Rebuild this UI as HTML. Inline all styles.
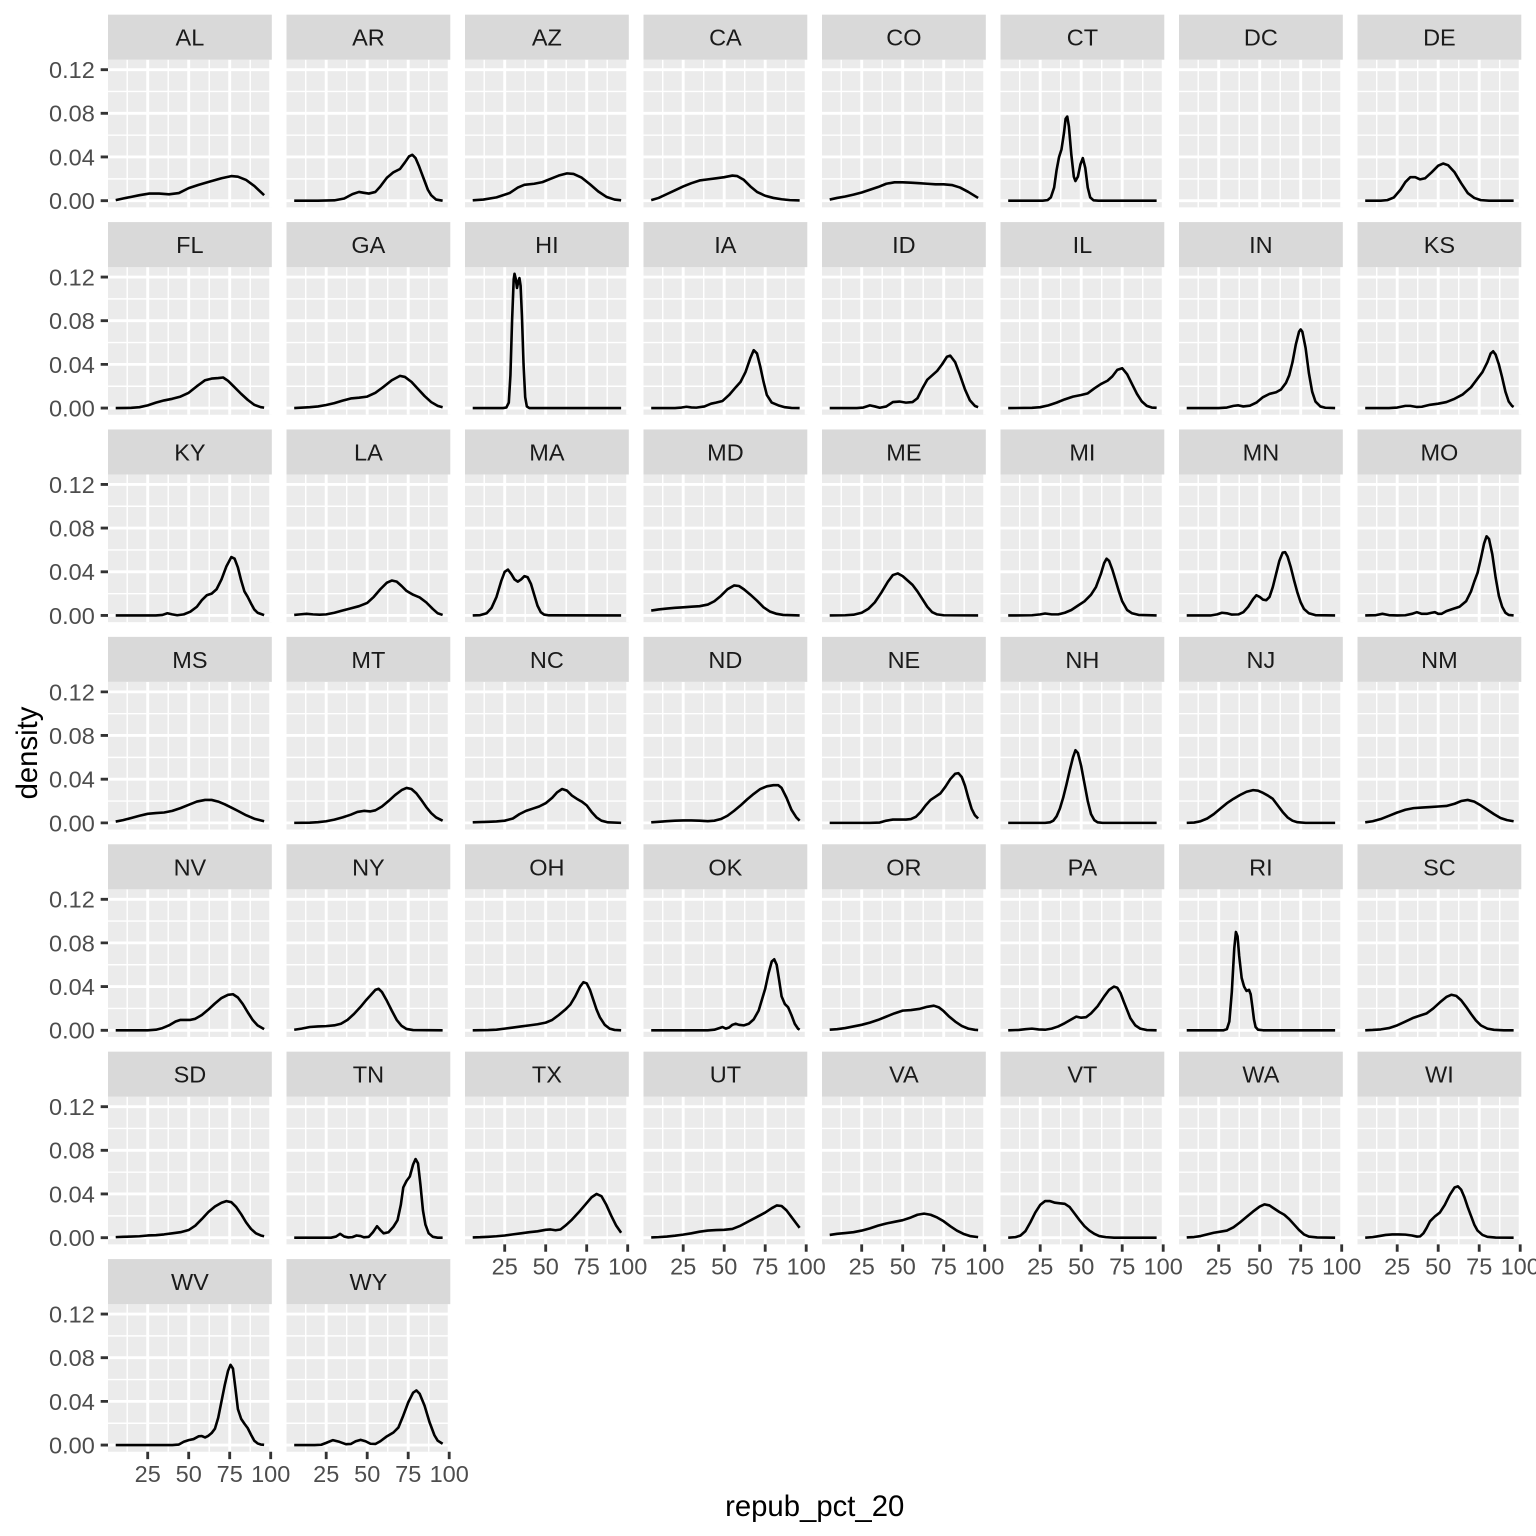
<!DOCTYPE html>
<html>
<head>
<meta charset="utf-8">
<style>
html,body{margin:0;padding:0;background:#fff;}
svg{display:block;}
text{font-family:"Liberation Sans",Arial,Helvetica,sans-serif;}
.st{font-size:23.5px;fill:#1a1a1a;text-anchor:middle;}
.yl{font-size:23.5px;fill:#4d4d4d;text-anchor:end;}
.xl{font-size:23.5px;fill:#4d4d4d;text-anchor:middle;}
.tk{stroke:#333;stroke-width:2.84;fill:none;}
.c{fill:none;stroke:#000;stroke-width:2.6;stroke-linejoin:round;stroke-linecap:butt;vector-effect:non-scaling-stroke;}
.sb{fill:#d9d9d9;}
</style>
</head>
<body>
<svg width="1536" height="1536" viewBox="0 0 1536 1536" xmlns="http://www.w3.org/2000/svg">
<defs>
<g id="pg">
<rect width="163.8" height="147.7" fill="#ebebeb"/>
<path d="M0 119.2H163.8M0 75.5H163.8M0 31.8H163.8M19.2 0V147.7M60.2 0V147.7M101.2 0V147.7M142.2 0V147.7" stroke="#fff" stroke-width="1.42"/>
<path d="M0 141H163.8M0 97.3H163.8M0 53.6H163.8M0 10H163.8M39.7 0V147.7M80.7 0V147.7M121.7 0V147.7M162.7 0V147.7" stroke="#fff" stroke-width="2.84"/>
</g>
</defs>
<rect width="1536" height="1536" fill="#fff"/>

<!-- Panels -->
<use href="#pg" x="108" y="59.67"/><use href="#pg" x="286.5" y="59.67"/><use href="#pg" x="465" y="59.67"/><use href="#pg" x="643.5" y="59.67"/><use href="#pg" x="822" y="59.67"/><use href="#pg" x="1000.5" y="59.67"/><use href="#pg" x="1179" y="59.67"/><use href="#pg" x="1357.5" y="59.67"/>
<use href="#pg" x="108" y="267.07"/><use href="#pg" x="286.5" y="267.07"/><use href="#pg" x="465" y="267.07"/><use href="#pg" x="643.5" y="267.07"/><use href="#pg" x="822" y="267.07"/><use href="#pg" x="1000.5" y="267.07"/><use href="#pg" x="1179" y="267.07"/><use href="#pg" x="1357.5" y="267.07"/>
<use href="#pg" x="108" y="474.47"/><use href="#pg" x="286.5" y="474.47"/><use href="#pg" x="465" y="474.47"/><use href="#pg" x="643.5" y="474.47"/><use href="#pg" x="822" y="474.47"/><use href="#pg" x="1000.5" y="474.47"/><use href="#pg" x="1179" y="474.47"/><use href="#pg" x="1357.5" y="474.47"/>
<use href="#pg" x="108" y="681.87"/><use href="#pg" x="286.5" y="681.87"/><use href="#pg" x="465" y="681.87"/><use href="#pg" x="643.5" y="681.87"/><use href="#pg" x="822" y="681.87"/><use href="#pg" x="1000.5" y="681.87"/><use href="#pg" x="1179" y="681.87"/><use href="#pg" x="1357.5" y="681.87"/>
<use href="#pg" x="108" y="889.27"/><use href="#pg" x="286.5" y="889.27"/><use href="#pg" x="465" y="889.27"/><use href="#pg" x="643.5" y="889.27"/><use href="#pg" x="822" y="889.27"/><use href="#pg" x="1000.5" y="889.27"/><use href="#pg" x="1179" y="889.27"/><use href="#pg" x="1357.5" y="889.27"/>
<use href="#pg" x="108" y="1096.67"/><use href="#pg" x="286.5" y="1096.67"/><use href="#pg" x="465" y="1096.67"/><use href="#pg" x="643.5" y="1096.67"/><use href="#pg" x="822" y="1096.67"/><use href="#pg" x="1000.5" y="1096.67"/><use href="#pg" x="1179" y="1096.67"/><use href="#pg" x="1357.5" y="1096.67"/>
<use href="#pg" x="108" y="1304.07"/><use href="#pg" x="286.5" y="1304.07"/>

<!-- Strips -->
<g class="sb">
<rect x="108" y="14.67" width="163.8" height="45"/><rect x="286.5" y="14.67" width="163.8" height="45"/><rect x="465" y="14.67" width="163.8" height="45"/><rect x="643.5" y="14.67" width="163.8" height="45"/><rect x="822" y="14.67" width="163.8" height="45"/><rect x="1000.5" y="14.67" width="163.8" height="45"/><rect x="1179" y="14.67" width="163.8" height="45"/><rect x="1357.5" y="14.67" width="163.8" height="45"/>
<rect x="108" y="222.07" width="163.8" height="45"/><rect x="286.5" y="222.07" width="163.8" height="45"/><rect x="465" y="222.07" width="163.8" height="45"/><rect x="643.5" y="222.07" width="163.8" height="45"/><rect x="822" y="222.07" width="163.8" height="45"/><rect x="1000.5" y="222.07" width="163.8" height="45"/><rect x="1179" y="222.07" width="163.8" height="45"/><rect x="1357.5" y="222.07" width="163.8" height="45"/>
<rect x="108" y="429.47" width="163.8" height="45"/><rect x="286.5" y="429.47" width="163.8" height="45"/><rect x="465" y="429.47" width="163.8" height="45"/><rect x="643.5" y="429.47" width="163.8" height="45"/><rect x="822" y="429.47" width="163.8" height="45"/><rect x="1000.5" y="429.47" width="163.8" height="45"/><rect x="1179" y="429.47" width="163.8" height="45"/><rect x="1357.5" y="429.47" width="163.8" height="45"/>
<rect x="108" y="636.87" width="163.8" height="45"/><rect x="286.5" y="636.87" width="163.8" height="45"/><rect x="465" y="636.87" width="163.8" height="45"/><rect x="643.5" y="636.87" width="163.8" height="45"/><rect x="822" y="636.87" width="163.8" height="45"/><rect x="1000.5" y="636.87" width="163.8" height="45"/><rect x="1179" y="636.87" width="163.8" height="45"/><rect x="1357.5" y="636.87" width="163.8" height="45"/>
<rect x="108" y="844.27" width="163.8" height="45"/><rect x="286.5" y="844.27" width="163.8" height="45"/><rect x="465" y="844.27" width="163.8" height="45"/><rect x="643.5" y="844.27" width="163.8" height="45"/><rect x="822" y="844.27" width="163.8" height="45"/><rect x="1000.5" y="844.27" width="163.8" height="45"/><rect x="1179" y="844.27" width="163.8" height="45"/><rect x="1357.5" y="844.27" width="163.8" height="45"/>
<rect x="108" y="1051.67" width="163.8" height="45"/><rect x="286.5" y="1051.67" width="163.8" height="45"/><rect x="465" y="1051.67" width="163.8" height="45"/><rect x="643.5" y="1051.67" width="163.8" height="45"/><rect x="822" y="1051.67" width="163.8" height="45"/><rect x="1000.5" y="1051.67" width="163.8" height="45"/><rect x="1179" y="1051.67" width="163.8" height="45"/><rect x="1357.5" y="1051.67" width="163.8" height="45"/>
<rect x="108" y="1259.07" width="163.8" height="45"/><rect x="286.5" y="1259.07" width="163.8" height="45"/>
</g>

<!-- Strip labels -->
<g class="st">
<text x="189.9" y="45.67">AL</text><text x="368.4" y="45.67">AR</text><text x="546.9" y="45.67">AZ</text><text x="725.4" y="45.67">CA</text><text x="903.9" y="45.67">CO</text><text x="1082.4" y="45.67">CT</text><text x="1260.9" y="45.67">DC</text><text x="1439.4" y="45.67">DE</text>
<text x="189.9" y="253.07">FL</text><text x="368.4" y="253.07">GA</text><text x="546.9" y="253.07">HI</text><text x="725.4" y="253.07">IA</text><text x="903.9" y="253.07">ID</text><text x="1082.4" y="253.07">IL</text><text x="1260.9" y="253.07">IN</text><text x="1439.4" y="253.07">KS</text>
<text x="189.9" y="460.47">KY</text><text x="368.4" y="460.47">LA</text><text x="546.9" y="460.47">MA</text><text x="725.4" y="460.47">MD</text><text x="903.9" y="460.47">ME</text><text x="1082.4" y="460.47">MI</text><text x="1260.9" y="460.47">MN</text><text x="1439.4" y="460.47">MO</text>
<text x="189.9" y="667.87">MS</text><text x="368.4" y="667.87">MT</text><text x="546.9" y="667.87">NC</text><text x="725.4" y="667.87">ND</text><text x="903.9" y="667.87">NE</text><text x="1082.4" y="667.87">NH</text><text x="1260.9" y="667.87">NJ</text><text x="1439.4" y="667.87">NM</text>
<text x="189.9" y="875.27">NV</text><text x="368.4" y="875.27">NY</text><text x="546.9" y="875.27">OH</text><text x="725.4" y="875.27">OK</text><text x="903.9" y="875.27">OR</text><text x="1082.4" y="875.27">PA</text><text x="1260.9" y="875.27">RI</text><text x="1439.4" y="875.27">SC</text>
<text x="189.9" y="1082.67">SD</text><text x="368.4" y="1082.67">TN</text><text x="546.9" y="1082.67">TX</text><text x="725.4" y="1082.67">UT</text><text x="903.9" y="1082.67">VA</text><text x="1082.4" y="1082.67">VT</text><text x="1260.9" y="1082.67">WA</text><text x="1439.4" y="1082.67">WI</text>
<text x="189.9" y="1290.07">WV</text><text x="368.4" y="1290.07">WY</text>
</g>

<!-- Y ticks -->
<path class="tk" d="M100.67 69.67H108M100.67 113.27H108M100.67 156.97H108M100.67 200.67H108
M100.67 277.07H108M100.67 320.67H108M100.67 364.37H108M100.67 408.07H108
M100.67 484.47H108M100.67 528.07H108M100.67 571.77H108M100.67 615.47H108
M100.67 691.87H108M100.67 735.47H108M100.67 779.17H108M100.67 822.87H108
M100.67 899.27H108M100.67 942.87H108M100.67 986.57H108M100.67 1030.27H108
M100.67 1106.67H108M100.67 1150.27H108M100.67 1193.97H108M100.67 1237.67H108
M100.67 1314.07H108M100.67 1357.67H108M100.67 1401.37H108M100.67 1445.07H108"/>

<!-- Y labels -->
<g class="yl">
<text x="94.8" y="78.07">0.12</text><text x="94.8" y="121.67">0.08</text><text x="94.8" y="165.37">0.04</text><text x="94.8" y="209.07">0.00</text>
<text x="94.8" y="285.47">0.12</text><text x="94.8" y="329.07">0.08</text><text x="94.8" y="372.77">0.04</text><text x="94.8" y="416.47">0.00</text>
<text x="94.8" y="492.87">0.12</text><text x="94.8" y="536.47">0.08</text><text x="94.8" y="580.17">0.04</text><text x="94.8" y="623.87">0.00</text>
<text x="94.8" y="700.27">0.12</text><text x="94.8" y="743.87">0.08</text><text x="94.8" y="787.57">0.04</text><text x="94.8" y="831.27">0.00</text>
<text x="94.8" y="907.67">0.12</text><text x="94.8" y="951.27">0.08</text><text x="94.8" y="994.97">0.04</text><text x="94.8" y="1038.67">0.00</text>
<text x="94.8" y="1115.07">0.12</text><text x="94.8" y="1158.67">0.08</text><text x="94.8" y="1202.37">0.04</text><text x="94.8" y="1246.07">0.00</text>
<text x="94.8" y="1322.47">0.12</text><text x="94.8" y="1366.07">0.08</text><text x="94.8" y="1409.77">0.04</text><text x="94.8" y="1453.47">0.00</text>
</g>

<!-- X ticks -->
<path class="tk" d="M147.7 1451.77V1459.1M188.7 1451.77V1459.1M229.7 1451.77V1459.1M270.7 1451.77V1459.1
M326.2 1451.77V1459.1M367.2 1451.77V1459.1M408.2 1451.77V1459.1M449.2 1451.77V1459.1
M504.7 1244.37V1251.7M545.7 1244.37V1251.7M586.7 1244.37V1251.7M627.7 1244.37V1251.7
M683.2 1244.37V1251.7M724.2 1244.37V1251.7M765.2 1244.37V1251.7M806.2 1244.37V1251.7
M861.7 1244.37V1251.7M902.7 1244.37V1251.7M943.7 1244.37V1251.7M984.7 1244.37V1251.7
M1040.2 1244.37V1251.7M1081.2 1244.37V1251.7M1122.2 1244.37V1251.7M1163.2 1244.37V1251.7
M1218.7 1244.37V1251.7M1259.7 1244.37V1251.7M1300.7 1244.37V1251.7M1341.7 1244.37V1251.7
M1397.2 1244.37V1251.7M1438.2 1244.37V1251.7M1479.2 1244.37V1251.7M1520.2 1244.37V1251.7"/>

<!-- X labels -->
<g class="xl">
<text x="147.7" y="1481.77">25</text><text x="188.7" y="1481.77">50</text><text x="229.7" y="1481.77">75</text><text x="270.7" y="1481.77">100</text>
<text x="326.2" y="1481.77">25</text><text x="367.2" y="1481.77">50</text><text x="408.2" y="1481.77">75</text><text x="449.2" y="1481.77">100</text>
<text x="504.7" y="1274.37">25</text><text x="545.7" y="1274.37">50</text><text x="586.7" y="1274.37">75</text><text x="627.7" y="1274.37">100</text>
<text x="683.2" y="1274.37">25</text><text x="724.2" y="1274.37">50</text><text x="765.2" y="1274.37">75</text><text x="806.2" y="1274.37">100</text>
<text x="861.7" y="1274.37">25</text><text x="902.7" y="1274.37">50</text><text x="943.7" y="1274.37">75</text><text x="984.7" y="1274.37">100</text>
<text x="1040.2" y="1274.37">25</text><text x="1081.2" y="1274.37">50</text><text x="1122.2" y="1274.37">75</text><text x="1163.2" y="1274.37">100</text>
<text x="1218.7" y="1274.37">25</text><text x="1259.7" y="1274.37">50</text><text x="1300.7" y="1274.37">75</text><text x="1341.7" y="1274.37">100</text>
<text x="1397.2" y="1274.37">25</text><text x="1438.2" y="1274.37">50</text><text x="1479.2" y="1274.37">75</text><text x="1520.2" y="1274.37">100</text>
</g>

<!-- Axis titles -->
<text x="814.7" y="1516" font-size="29.3" text-anchor="middle" fill="#000">repub_pct_20</text>
<text transform="translate(37,753) rotate(-90)" font-size="29.3" text-anchor="middle" fill="#000">density</text>

<!-- Curves: data coords x=pct, y=density*1000 -->
<!-- Row 0 -->
<polyline class="c" transform="translate(106.688,200.67) scale(1.64,-1.092)" points="5.5,0.5 10,2 15,3.5 20,5 26,6.5 32,6.5 38,5.8 44,7 50,11.5 56,14.5 63,17.5 70,20.5 76,22.5 80,22 85,19 90,13.5 96,5"/>
<polyline class="c" transform="translate(285.188,200.67) scale(1.64,-1.092)" points="5.5,0 20,0 30,0.3 36,2 41,6 45,8 48,7.2 51,6.5 55,8 58,13 62,21 66,26 70,29 73,35 75.5,40.5 77.5,42 79.5,39 81.5,32 83,26 85,18 87,10 89,5 92,1 96,0"/>
<polyline class="c" transform="translate(463.688,200.67) scale(1.64,-1.092)" points="5.5,0.3 12,1 20,3 28,7 33,12 37,14.5 43,15.5 48,17 53,20 58,23 63,25 67,24.5 72,21 77,15 82,8.5 87,3.5 92,1 96,0.3"/>
<polyline class="c" transform="translate(642.188,200.67) scale(1.64,-1.092)" points="5.5,0.5 10,2.5 15,6 20,9.5 25,13 30,16 35,18.5 40,19.5 45,20.5 50,21.5 55,23 58,22.5 62,19 66,13 70,8 75,4.5 80,2.5 85,1.3 90,0.5 96,0.2"/>
<polyline class="c" transform="translate(820.688,200.67) scale(1.64,-1.092)" points="5.5,1 10,2.5 15,3.8 20,5.5 25,7.5 30,10 35,12.5 40,15.5 45,16.8 50,16.8 55,16.5 60,16 65,15.5 70,15 75,15 80,14.3 85,12 90,8 96,2.5"/>
<polyline class="c" transform="translate(999.188,200.67) scale(1.64,-1.092)" points="5.5,0 26.5,0 29.5,0.5 31.5,3 33.5,12 35,28 36.5,40 38,47 39.5,62 40.5,75 41.5,77 42.5,68 44,42 45.5,22 46.5,18 48,22 49.5,33 51,39 52.5,30 54,12 55.5,3 57.5,0.3 60.5,0 96,0"/>
<polyline class="c" transform="translate(1356.188,200.67) scale(1.64,-1.092)" points="5.5,0 15,0 19,0.5 23,3 27,10 30,17 33,21.5 36,21.5 39,19.5 42,20.5 46,26 50,32 53,34 56,32.5 60,26 64,16 68,7 72,2.5 76,0.5 81,0 96,0"/>
<!-- Row 1 -->
<polyline class="c" transform="translate(106.688,408.07) scale(1.64,-1.092)" points="5.5,0 15,0.2 20,0.8 25,2.5 30,5 35,7 40,8.5 45,10.5 50,14 55,20 60,25.5 64,27 68,27.5 71,28 74,25 78,19 82,13 86,7.5 90,3 94,0.8 96,0.4"/>
<polyline class="c" transform="translate(285.188,408.07) scale(1.64,-1.092)" points="5.5,0 15,0.8 20,1.5 25,2.8 30,4.5 35,6.8 40,8.8 45,9.5 50,10.5 55,14 60,19.5 65,25.5 70,29.5 73,28.5 77,24 81,17.5 85,11 89,5.5 93,2 96,0.8"/>
<polyline class="c" transform="translate(463.688,408.07) scale(1.64,-1.092)" points="5.5,0 24,0 26,0.5 27.5,5 28.5,30 29.5,80 30.5,118 31,123 31.8,118 32.5,110 33.3,116 34,119 34.7,112 35.5,85 36.5,40 37.5,10 38.5,1.5 40,0 96,0"/>
<polyline class="c" transform="translate(642.188,408.07) scale(1.64,-1.092)" points="5.5,0 20,0 24,0.5 27,1.2 30,0.6 33,0.4 38,1.5 42,4 45,5 49,6.5 53,12 57,19 60,24 63,33 66,46 68,53 70,50 72,38 74,24 76,12 79,5 83,2.5 87,0.8 91,0.1 96,0"/>
<polyline class="c" transform="translate(820.688,408.07) scale(1.64,-1.092)" points="5.5,0 22,0 26,0.5 30,2.5 33,1.5 36,0.3 40,1.5 44,5.5 48,6 52,5 56,5.5 59,9 62,18 65,26 68,30 71,34 74,40 77,47 79,48 82,42 85,30 88,17 91,7 94,2 96,0.8"/>
<polyline class="c" transform="translate(999.188,408.07) scale(1.64,-1.092)" points="5.5,0 20,0.2 25,0.8 30,2.5 35,5 40,8 45,10.5 50,12 54,13.5 58,18 62,22 66,25 69,29 72,35 75,36.5 78,31 81,22 84,13 87,6 90,2 93,0.5 96,0.2"/>
<polyline class="c" transform="translate(1177.688,408.07) scale(1.64,-1.092)" points="5.5,0 25,0 30,0.5 34,2 37,2.5 40,1.5 44,2.2 48,5 52,10 56,13 60,14.5 63,17 66,23 68,30 70,42 72,58 74,70 75,72 76,70 78,55 80,32 82,15 84,6 87,1.5 90,0.3 96,0"/>
<polyline class="c" transform="translate(1356.188,408.07) scale(1.64,-1.092)" points="5.5,0 20,0 25,0.5 30,2 33,2 37,1 40,1.2 45,3 50,4 55,5.5 60,8.5 65,12.5 70,19 74,27 77,33 80,42 82,50 83.5,52 85,49 87,40 89,28 91,15 93,6 95,2 96,1"/>
<!-- Row 2 -->
<polyline class="c" transform="translate(106.688,615.47) scale(1.64,-1.092)" points="5.5,0 30,0 34,0.5 37,2 40,1 43,0.2 47,1 51,3.5 55,8 58,14 61,18.5 64,20 67,24 70,33 73,45 76,53.5 78,52 80,44 82,32 84,22 86,17 88,11 90,5.5 92,2.5 96,0.3"/>
<polyline class="c" transform="translate(285.188,615.47) scale(1.64,-1.092)" points="5.5,0.5 9,1 13,1.5 17,1 21,0.7 25,1 30,2.5 35,4.5 40,6.5 45,8.5 50,11.5 54,17 58,24 62,30 65,32 68,31 71,27 74,22.5 78,19 82,16.5 86,12 90,6 93,2 96,0.5"/>
<polyline class="c" transform="translate(463.688,615.47) scale(1.64,-1.092)" points="5.5,0 10,0.3 14,2 17,7 20,17 23,32 25,40 27,42 29,38 31,33 33,31 35,33 37,36 39,35 41,29 43,19 45,9 47,3 49,0.8 52,0.1 96,0"/>
<polyline class="c" transform="translate(642.188,615.47) scale(1.64,-1.092)" points="5.5,4.5 10,5.5 15,6.3 20,7 25,7.5 30,8 35,8.5 40,10 44,13 48,18 52,24 56,27.5 59,27 62,24 66,19 70,13.5 74,7.5 78,3.5 82,1.5 86,0.5 96,0"/>
<polyline class="c" transform="translate(820.688,615.47) scale(1.64,-1.092)" points="5.5,0 15,0.2 20,0.7 25,2.5 29,6 33,12 37,21 41,31 44,37 47,38.5 50,36 53,32 56,28 59,22 62,15 65,8 68,3 71,1 75,0.2 96,0"/>
<polyline class="c" transform="translate(999.188,615.47) scale(1.64,-1.092)" points="5.5,0 20,0.2 25,1 28,1.8 32,1 36,1 40,2.5 44,5 48,9 52,13 56,19 59,26 62,38 64,48 65.5,52 67,50 69,42 71,32 73,22 75,13 78,5 81,2 85,0.5 96,0"/>
<polyline class="c" transform="translate(1177.688,615.47) scale(1.64,-1.092)" points="5.5,0 20,0 24,1 27,2.5 30,2 33,0.8 37,1 40,3 43,8 46,15 48,18.5 50,17 52,14.5 54,14 56,17 58,26 60,38 62,50 64,57.5 65.5,58 67,54 69,44 71,32 73,21 75,12 77,6 80,2 84,0.3 96,0"/>
<polyline class="c" transform="translate(1356.188,615.47) scale(1.64,-1.092)" points="5.5,0 12,0.3 16,1.5 20,0.3 25,0 30,0.2 34,1.5 37,3 40,1.5 43,1.5 46,2.5 48,3 50,1.5 52,1.5 55,4 59,6 63,8 67,13 70,22 72,31 74,39 76,52 78,66 79.5,72.5 81,70 83,56 85,35 87,18 89,8 91,2.5 93,0.5 96,0"/>
<!-- Row 3 -->
<polyline class="c" transform="translate(106.688,822.87) scale(1.64,-1.092)" points="5.5,1.2 10,2.5 15,4.5 20,6.5 25,8.3 30,9 35,9.5 40,11 45,13.5 50,16.5 55,19.5 60,21 64,21 68,19.5 72,17 76,14 80,11 85,7 90,3.8 96,1.5"/>
<polyline class="c" transform="translate(285.188,822.87) scale(1.64,-1.092)" points="5.5,0 15,0.2 20,0.6 25,1.5 30,3 35,5 40,7.5 44,10 48,11 52,10.5 55,11.5 59,15 63,20 67,25.5 71,30 74,32 77,31 80,27 83,21 86,14.5 89,9 92,5 96,2"/>
<polyline class="c" transform="translate(463.688,822.87) scale(1.64,-1.092)" points="5.5,0.5 10,0.7 15,1 20,1.3 25,2 30,4 34,8 38,11 42,13 46,15 50,18 54,23 57,28 60,31 63,29.5 66,25 69,22 72,19.5 75,16 78,10 81,5 84,2 88,0.5 96,0"/>
<polyline class="c" transform="translate(642.188,822.87) scale(1.64,-1.092)" points="5.5,0.5 10,1 15,1.5 20,2 25,2.2 30,2.2 35,2 40,1.5 44,2 48,3.5 52,6.5 56,11 60,16 64,21.5 68,26.5 72,31 76,33.5 80,34.5 83,34.5 85,32 88,23 91,12 94,5 96,2"/>
<polyline class="c" transform="translate(820.688,822.87) scale(1.64,-1.092)" points="5.5,0 30,0 36,0.3 40,2 44,3 48,3 52,3 55,3.5 58,5.5 61,10 64,16 67,21 70,24 73,27 76,33 79,40 82,45 84,45.5 86,42 88,34 90,23 92,13 94,7 96,4"/>
<polyline class="c" transform="translate(999.188,822.87) scale(1.64,-1.092)" points="5.5,0 28,0 31,0.5 33,2 35,6 37,13 39,23 41,35 43,48 45,60 46.5,66.5 48,64 50,52 52,36 54,20 56,8 58,2.5 60,0.5 63,0 96,0"/>
<polyline class="c" transform="translate(1177.688,822.87) scale(1.64,-1.092)" points="5.5,0 10,0.3 14,1.5 18,4 22,8 26,13 30,18 34,22 38,25.5 42,28.5 46,30 49,29.5 52,27.5 55,25 58,22 61,16 64,10 67,5 70,2 73,0.6 78,0 96,0"/>
<polyline class="c" transform="translate(1356.188,822.87) scale(1.64,-1.092)" points="5.5,0.5 10,1.5 15,3.5 20,6.5 25,9.5 30,12 35,13.5 40,14 45,14.5 50,15 55,15.5 60,17.5 64,20 68,21 72,19.5 76,16 80,12 84,8 88,4.5 92,2.5 96,1.5"/>
<!-- Row 4 -->
<polyline class="c" transform="translate(106.688,1030.27) scale(1.64,-1.092)" points="5.5,0 25,0 30,0.5 34,2 38,4.5 42,8 45,9.5 48,9.5 51,9.5 54,10.5 58,14 62,19 66,24.5 70,29.5 74,32.5 77,33 80,30 83,24 86,16.5 89,9.5 92,4.5 96,1"/>
<polyline class="c" transform="translate(285.188,1030.27) scale(1.64,-1.092)" points="5.5,0.5 10,1.5 15,3 20,3.5 25,3.8 30,4.5 34,6 38,9.5 42,15 46,21.5 49,27 52,32 55,37 57,38 59,35 62,27 65,18 68,9.5 71,4 74,1.2 78,0.2 96,0"/>
<polyline class="c" transform="translate(463.688,1030.27) scale(1.64,-1.092)" points="5.5,0 15,0.2 20,0.5 25,1.5 30,2.5 35,3.5 40,4.5 45,5.5 50,7 54,9.5 58,14 62,19 65,23.5 68,31 71,40 73,44 75,43 77,37 79,28 81,19 83,12 86,5 89,1.5 92,0.3 96,0"/>
<polyline class="c" transform="translate(642.188,1030.27) scale(1.64,-1.092)" points="5.5,0 40,0 44,0.5 47,2 49,3 51,1.5 53,2.5 55,5 57,6 59,5 62,4.5 65,6 68,10 71,18 73,28 75,38 77,52 79,63 80.5,65 82,60 83.5,46 85,31 87,24 89,21 91,14 93,6 95,1.5 96,0.5"/>
<polyline class="c" transform="translate(820.688,1030.27) scale(1.64,-1.092)" points="5.5,0.5 10,1 15,2 20,3.5 25,5 30,7 35,9.5 40,12.5 45,15.5 50,18 55,18.5 60,19.5 65,21.5 69,22.5 72,21 75,17.5 78,13 82,8 86,4 90,1.5 94,0.4 96,0.2"/>
<polyline class="c" transform="translate(999.188,1030.27) scale(1.64,-1.092)" points="5.5,0 12,0.3 16,1 20,1.5 24,0.8 28,0.5 32,1.5 36,3.5 40,6.5 44,10 47,12.5 50,11.5 53,12 56,15.5 60,22 64,31 67,37 70,40 72,39 74,34 76,26 78,18.5 80,11 83,4.5 86,1.5 90,0.2 96,0"/>
<polyline class="c" transform="translate(1177.688,1030.27) scale(1.64,-1.092)" points="5.5,0 28,0 30,1 31.5,8 33,35 34.5,75 35.5,90 36.5,86 37.5,68 39,48 40.5,40 42,36 43.5,37 44.5,33 45.5,22 46.5,10 47.5,3 49,0.5 52,0 96,0"/>
<polyline class="c" transform="translate(1356.188,1030.27) scale(1.64,-1.092)" points="5.5,0 10,0.3 15,0.8 20,2 25,4.5 30,8 35,11.5 39,13.5 43,15.5 47,20 51,25.5 55,30.5 58,32.5 61,31.5 64,27.5 67,21.5 70,15 73,9 76,4.5 80,1.5 84,0.4 90,0 96,0"/>
<!-- Row 5 -->
<polyline class="c" transform="translate(106.688,1237.67) scale(1.64,-1.092)" points="5.5,0.5 10,0.8 15,1 20,1.3 25,2 30,2.3 35,3 40,4 45,5 50,7 54,11 58,17 62,23.5 66,28.5 70,32 73,33.5 76,32.5 79,28 82,21.5 85,14 88,8 91,4 94,2 96,1.3"/>
<polyline class="c" transform="translate(285.188,1237.67) scale(1.64,-1.092)" points="5.5,0 28,0 31,1 33.5,3.5 36,1 38.5,0.2 41,0.5 43.5,2 46,1.5 48,0.3 51,0.8 53.5,5 56,10.5 58,7 60,4 63,5 66,10 68.5,16 70.5,30 72,46 74,52 76,56 78,67 79.5,72 81,68 82.5,48 84,25 85.5,12 87.5,4 90,0.8 93,0 96,0"/>
<polyline class="c" transform="translate(463.688,1237.67) scale(1.64,-1.092)" points="5.5,0.2 10,0.4 15,0.8 20,1.3 25,2 30,3 35,4 40,5 45,5.8 50,7.2 53,7.5 56,6.8 59,7.5 62,11 66,16.5 70,23 74,30 78,37 81,40 84,38 87,30 90,20 93,11 96,4.5"/>
<polyline class="c" transform="translate(642.188,1237.67) scale(1.64,-1.092)" points="5.5,0.2 10,0.5 15,1 20,1.8 25,2.8 30,4 35,5.5 40,6.5 45,7 50,7.2 55,8 60,11 65,15 70,19 75,23 79,27 82,29.5 85,29 88,25 91,19 94,13 96,9"/>
<polyline class="c" transform="translate(820.688,1237.67) scale(1.64,-1.092)" points="5.5,2.5 10,3.5 15,4.2 20,5 25,6.5 30,8.5 35,11 40,13 45,14.5 50,16 55,18.5 59,21 63,22 67,21 71,18.5 75,15 79,10.5 83,6.5 87,3.5 91,1.5 96,0.5"/>
<polyline class="c" transform="translate(999.188,1237.67) scale(1.64,-1.092)" points="5.5,0 10,0.5 13,2 16,6 19,14 22,23 25,30 28,33.5 31,33.5 34,32 37,31.5 40,31 43,28 46,22 49,16 52,10.5 55,6.5 58,3.5 61,1.5 65,0.5 70,0 96,0"/>
<polyline class="c" transform="translate(1177.688,1237.67) scale(1.64,-1.092)" points="5.5,0.2 10,0.6 14,1.5 18,3 22,4.5 26,5.5 30,6.5 34,9.5 38,14 42,19 46,24 50,28.5 53,30.5 56,29.5 59,26.5 62,23.5 65,21 68,17 71,12 74,7 77,3 80,1 85,0.2 96,0"/>
<polyline class="c" transform="translate(1356.188,1237.67) scale(1.64,-1.092)" points="5.5,0 10,0.5 14,1.5 18,2.5 22,3 26,3 30,2.8 34,2 37,1 39,1.2 41,4 43,9 45,15 48,19.5 51,23 54,30 57,39 60,46 62,47 64,44 66,37 68,28 70,20 72,12 74,6.5 77,2.5 80,0.8 85,0.1 96,0"/>
<!-- Row 6 -->
<polyline class="c" transform="translate(106.688,1445.07) scale(1.64,-1.092)" points="5.5,0 40,0 44,0.5 47,3 50,4.5 53,5.5 56,8 58,8.3 60,7 62,8.5 64,11 66,15 68,25 70,40 72,55 74,68 75.5,73.5 77,70 78.5,52 80,33 82,24 84,19.5 86,15.5 88,9.5 90,4 92,1.5 94,0.5 96,0.2"/>
<polyline class="c" transform="translate(285.188,1445.07) scale(1.64,-1.092)" points="5.5,0 18,0 22,0.3 25,2 29,4.5 33,3 37,0.8 40,1 43,3.5 46,4.8 49,3.5 52,1.2 55,1 58,3.5 62,8 66,11.5 69,16 72,27 75,39 78,48 80,50 82,47 85,36 88,21 91,9 93,4 96,1.2"/>
</svg>
</body>
</html>
